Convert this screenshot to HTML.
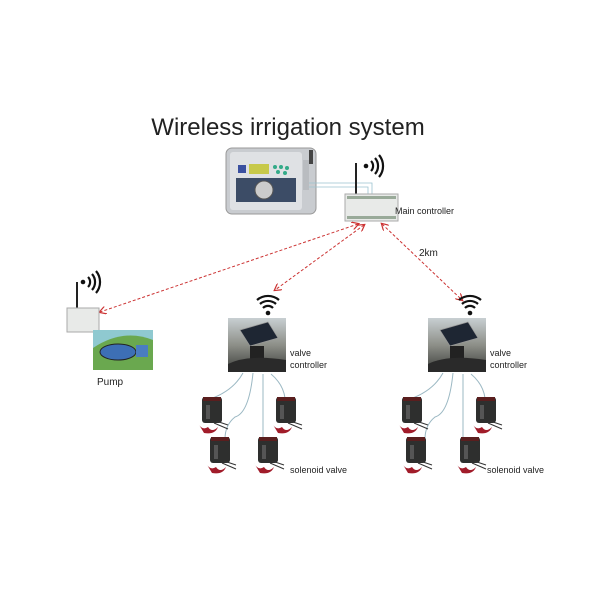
<!DOCTYPE html>
<html><head><meta charset="utf-8"><style>body{margin:0;background:#fff}svg{display:block}text{font-family:"Liberation Sans",sans-serif}</style></head><body>
<svg width="600" height="600" viewBox="0 0 600 600" xmlns="http://www.w3.org/2000/svg">
<defs>
<marker id="ar" markerWidth="8" markerHeight="8" refX="6" refY="4" orient="auto-start-reverse"><path d="M0,0 L7,4 L0,8" fill="none" stroke="#c33" stroke-width="1.2"/></marker>
<linearGradient id="sky" x1="0" y1="0" x2="0" y2="1"><stop offset="0" stop-color="#c8cfd2"/><stop offset="0.5" stop-color="#8d8f88"/><stop offset="1" stop-color="#3b3d3a"/></linearGradient>
<g id="valve"><rect x="0" y="0" width="20" height="26" rx="3" fill="#2e2f2e"/><rect x="1" y="0" width="18" height="4" fill="#5a1e1e"/><rect x="4" y="8" width="4" height="14" fill="#555"/><path d="M-4,26 q4,8 10,4 q4,6 10,0 q-3,8 -14,6z" fill="#a11c2a"/><path d="M12,26 l14,6 M14,24 l12,4" stroke="#333" stroke-width="1"/></g>
<g id="wifi"><circle cx="10" cy="18" r="2.3" fill="#111"/><path d="M5,13 a7,7 0 0 1 10,0 M2,9 a12,12 0 0 1 16,0 M-1,5 a17,17 0 0 1 22,0" fill="none" stroke="#111" stroke-width="2.2"/></g>
<g id="vc"><rect x="0" y="0" width="58" height="54" fill="url(#sky)"/><path d="M12,12 L40,4 L50,20 L22,28z" fill="#1e2633" stroke="#999" stroke-width="0.7"/><rect x="22" y="28" width="14" height="14" fill="#222"/><path d="M0,46 q20,-10 58,-4 v12 h-58z" fill="#2a2a2a"/></g>
</defs>
<text x="288" y="135" font-size="24" text-anchor="middle" fill="#222">Wireless irrigation system</text>
<!-- irrigation controller -->
<rect x="226" y="148" width="90" height="66" rx="6" fill="#c9ccd0" stroke="#999"/>
<rect x="230" y="152" width="72" height="58" rx="3" fill="#dfe1e4"/>
<rect x="238" y="165" width="8" height="8" fill="#3a50a0"/>
<rect x="249" y="164" width="20" height="10" fill="#c7c94a"/>
<circle cx="275" cy="167" r="2" fill="#3a8"/><circle cx="281" cy="167" r="2" fill="#3a8"/><circle cx="287" cy="168" r="2" fill="#3a8"/><circle cx="278" cy="172" r="2" fill="#3a8"/><circle cx="285" cy="173" r="2" fill="#3a8"/>
<rect x="236" y="178" width="60" height="24" fill="#3c4c66"/>
<circle cx="264" cy="190" r="9" fill="#ccc" stroke="#555"/>
<rect x="303" y="160" width="6" height="30" fill="#b9bcc0"/>
<rect x="309" y="150" width="4" height="14" fill="#444"/>
<path d="M309,183 H372 V196 M309,187 H368 V196" fill="none" stroke="#9bc3d0" stroke-width="0.8"/>
<!-- main controller -->
<rect x="355" y="163" width="2" height="32" fill="#222"/>
<use href="#wifi" x="366" y="156" transform="rotate(90 375 165) translate(0 0)"/>
<rect x="345" y="194" width="53" height="27" fill="#e8eae8" stroke="#aaa"/>
<rect x="347" y="196" width="49" height="3" fill="#9a9"/><rect x="347" y="216" width="49" height="3" fill="#9a9"/>
<text x="395" y="214" font-size="9" fill="#222">Main controller</text>
<!-- dashed links -->
<g stroke="#c33" stroke-width="1" stroke-dasharray="3,2" fill="none" marker-start="url(#ar)" marker-end="url(#ar)">
<line x1="358" y1="224" x2="100" y2="312"/>
<line x1="364" y1="225" x2="275" y2="290"/>
<line x1="382" y1="224" x2="462" y2="300"/>
</g>
<text x="419" y="256" font-size="10" fill="#222">2km</text>
<!-- pump -->
<rect x="76" y="282" width="2" height="28" fill="#222"/>
<use href="#wifi" x="83" y="272" transform="rotate(90 92 281)"/>
<rect x="67" y="308" width="32" height="24" fill="#e8eae8" stroke="#aaa"/>
<rect x="93" y="330" width="60" height="40" fill="#8fc9d0"/>
<path d="M93,348 q30,-20 60,-8 v30 h-60z" fill="#6aa84f"/>
<ellipse cx="118" cy="352" rx="18" ry="8" fill="#3d6fb5" stroke="#222"/>
<rect x="136" y="345" width="12" height="12" fill="#4a7dc0"/>
<text x="97" y="385" font-size="10" fill="#222">Pump</text>
<!-- left group -->
<use href="#wifi" x="258" y="295"/>
<use href="#vc" x="228" y="318"/>
<text x="290" y="356" font-size="9" fill="#222">valve</text>
<text x="290" y="368" font-size="9" fill="#222">controller</text>
<path d="M243,373 q-10,18 -33,26 M253,373 q-4,40 -18,44 q-10,8 -10,22 M263,374 V440 M271,374 q12,10 14,24" fill="none" stroke="#9bb8c3" stroke-width="1"/>
<use href="#valve" x="202" y="397"/><use href="#valve" x="276" y="397"/><use href="#valve" x="210" y="437"/><use href="#valve" x="258" y="437"/>
<text x="290" y="473" font-size="9" fill="#222">solenoid valve</text>
<!-- right group -->
<use href="#wifi" x="460" y="295"/>
<use href="#vc" x="428" y="318"/>
<text x="490" y="356" font-size="9" fill="#222">valve</text>
<text x="490" y="368" font-size="9" fill="#222">controller</text>
<path d="M443,373 q-10,18 -33,26 M453,373 q-4,40 -18,44 q-10,8 -10,22 M463,374 V440 M471,374 q12,10 14,24" fill="none" stroke="#9bb8c3" stroke-width="1"/>
<use href="#valve" x="402" y="397"/><use href="#valve" x="476" y="397"/><use href="#valve" x="406" y="437"/><use href="#valve" x="460" y="437"/>
<text x="487" y="473" font-size="9" fill="#222">solenoid valve</text>
</svg>
</body></html>
